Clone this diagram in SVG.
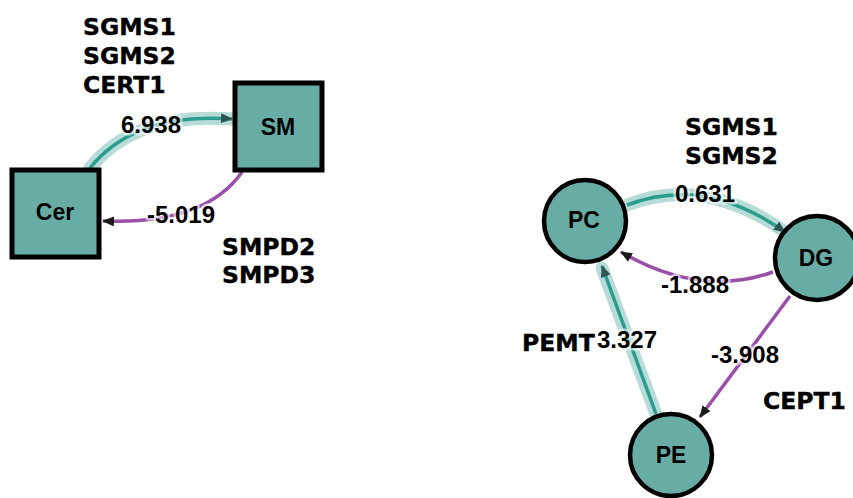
<svg xmlns="http://www.w3.org/2000/svg" width="853" height="498" viewBox="0 0 853 498">
<style>
.node{fill:#68ada5;stroke:#000}
rect.node{stroke-width:5}
circle.node{stroke-width:4.5}
.nlab{font-family:"Liberation Sans",Arial,sans-serif;font-weight:bold;font-size:23px;fill:#000;text-anchor:middle}
.gene{font-family:"DejaVu Sans",sans-serif;font-weight:bold;font-size:23.5px;fill:#000;stroke:#000;stroke-width:0.4}
.num{font-family:"Liberation Sans",Arial,sans-serif;font-weight:bold;font-size:24px;fill:#000;text-anchor:middle;stroke:#fff;stroke-opacity:0.6;stroke-width:5;paint-order:stroke;stroke-linejoin:round}
.halo{fill:none;stroke:#b7dbd7;stroke-width:13;stroke-linecap:round}
.pos{fill:none;stroke:#2a9d8f;stroke-width:3.5}
.neg{fill:none;stroke:#9a4fa8;stroke-width:3.5}
</style>
<defs>
<marker id="aT" markerUnits="userSpaceOnUse" markerWidth="12" markerHeight="10" refX="11" refY="5" orient="auto" viewBox="0 0 12 10"><path d="M0,0 L12,5 L0,10 z" fill="#2e5452"/></marker>
<marker id="aP" markerUnits="userSpaceOnUse" markerWidth="12" markerHeight="10" refX="11" refY="5" orient="auto" viewBox="0 0 12 10"><path d="M0,0 L12,5 L0,10 z" fill="#1a1a1a"/></marker>
</defs>
<g id="connectors">
<path class="halo" d="M90,168 Q135,112 232,119"/>
<path class="pos" d="M90,168 Q135,112 232,119" marker-end="url(#aT)"/>
<path class="neg" d="M242,172 Q205,225 103,221" marker-end="url(#aP)"/>
<path class="halo" d="M627,205 Q705,175 785,232"/>
<path class="pos" d="M627,205 Q705,175 785,232" marker-end="url(#aT)"/>
<path class="neg" d="M773,272 Q700,298 621,252" marker-end="url(#aP)"/>
<path class="halo" d="M656,414 L602,268"/>
<path class="pos" d="M656,414 L602,266" marker-end="url(#aT)"/>
<path class="neg" d="M790,296 L700,417" marker-end="url(#aP)"/>
<text class="num" x="151" y="133">6.938</text>
<text class="num" x="181" y="223">-5.019</text>
<text class="num" x="705" y="202">0.631</text>
<text class="num" x="695" y="293">-1.888</text>
<text class="num" x="627" y="348">3.327</text>
<text class="num" x="745" y="363">-3.908</text>
</g>
<g id="Cer"><rect class="node" x="12" y="170" width="87" height="87"/><text class="nlab" x="55" y="220">Cer</text></g>
<g id="SM"><rect class="node" x="235" y="83" width="87" height="87"/><text class="nlab" x="278" y="135">SM</text></g>
<g id="PC"><circle class="node" cx="585" cy="221" r="41"/><text class="nlab" x="584" y="228">PC</text></g>
<g id="DG"><circle class="node" cx="817" cy="258" r="42"/><text class="nlab" x="816" y="266">DG</text></g>
<g id="PE"><circle class="node" cx="671" cy="455" r="41"/><text class="nlab" x="671" y="463">PE</text></g>
<g id="genes">
<text class="gene" x="83" y="35">SGMS1</text>
<text class="gene" x="83" y="64">SGMS2</text>
<text class="gene" x="83" y="93">CERT1</text>
<text class="gene" x="222" y="255">SMPD2</text>
<text class="gene" x="222" y="283">SMPD3</text>
<text class="gene" x="685" y="135">SGMS1</text>
<text class="gene" x="685" y="164">SGMS2</text>
<text class="gene" x="522" y="351">PEMT</text>
<text class="gene" x="763" y="409">CEPT1</text>
</g>
</svg>
